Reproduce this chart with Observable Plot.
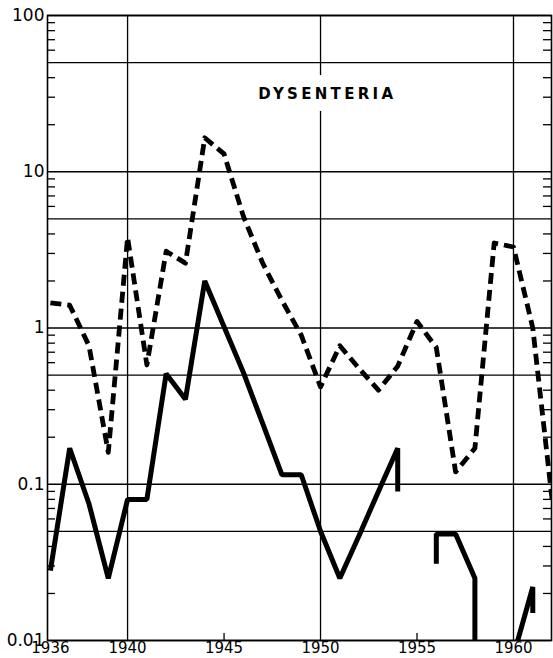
<!DOCTYPE html>
<html><head><meta charset="utf-8">
<script src="https://cdn.jsdelivr.net/npm/d3@7"></script>
<script src="https://cdn.jsdelivr.net/npm/@observablehq/plot@0.6"></script>
<style>
body{margin:0;background:#fff;}
</style></head><body><div id="chart"></div>
<script>
const title = "DYSENTERIA";

// dashed series (one value per year)
const dashedYears = [1936,1937,1938,1939,1940,1941,1942,1943,1944,1945,1946,1947,1948,1949,1950,1951,1952,1953,1954,1955,1956,1957,1958,1959,1960,1961,1962];
const dashedValues = [1.45,1.4,0.77,0.16,3.8,0.58,3.1,2.6,16.5,13,5.2,2.6,1.5,0.9,0.42,0.77,0.55,0.4,0.57,1.1,0.75,0.12,0.17,3.5,3.3,1.0,0.08];

// solid series, drawn in three separate pieces
const solidYearsA = [1936,1937,1938,1939,1940,1941,1942,1943,1944,1945,1946,1947,1948,1949,1950,1951,1952,1953,1954,1954];
const solidValuesA = [0.028,0.17,0.075,0.025,0.08,0.08,0.51,0.35,2.0,1.02,0.52,0.245,0.115,0.115,0.05,0.025,0.047,0.09,0.17,0.09];
const solidYearsB = [1956,1956,1957,1958,1958];
const solidValuesB = [0.031,0.048,0.048,0.025,0.008];
const solidYearsC = [1960,1961,1961];
const solidValuesC = [0.008,0.022,0.015];

// axes
const yMajor = [0.01,0.05,0.1,0.5,1,5,10,50,100];
const yTickLabels = ["0.01","0.05","0.1","0.5","1","5","10","50","100"];
const yMinor = [0.02,0.03,0.04,0.06,0.07,0.08,0.09,0.2,0.3,0.4,0.6,0.7,0.8,0.9,2,3,4,6,7,8,9,20,30,40,60,70,80,90];
const xTicks = [1936,1940,1945,1950,1955,1960];
const xGrid = [1940,1950,1960];
const xMinor = [1945,1955];

const dashed = dashedYears.map((y,i)=>({year:y, value:dashedValues[i]}));
const solid = [
  ...solidYearsA.map((y,i)=>({year:y, value:solidValuesA[i], seg:"A"})),
  ...solidYearsB.map((y,i)=>({year:y, value:solidValuesB[i], seg:"B"})),
  ...solidYearsC.map((y,i)=>({year:y, value:solidValuesC[i], seg:"C"}))
];
const yLabelMap = new Map(yMajor.map((v,i)=>[v, yTickLabels[i]]));

const chart = Plot.plot({
  width: 553, height: 658,
  marginLeft: 47, marginRight: 2, marginTop: 15, marginBottom: 18,
  style: {fontFamily: "DejaVu Sans", color: "black", background: "white"},
  x: {domain: [1935.85, 1961.97], label: null},
  y: {type: "log", domain: [0.01, 100], label: null},
  marks: [
    Plot.ruleY(yMajor, {stroke: "black", strokeWidth: 1.3}),
    Plot.ruleX(xGrid, {stroke: "black", strokeWidth: 1.3}),
    Plot.tickY(yMinor, {y: d => d, insetRight: 496, stroke: "black", strokeWidth: 1.3}),
    Plot.tickY(yMinor, {y: d => d, insetLeft: 496, stroke: "black", strokeWidth: 1.3}),
    Plot.tickX(xMinor, {x: d => d, insetTop: 618, stroke: "black", strokeWidth: 1.3}),
    Plot.frame({stroke: "black", strokeWidth: 1.6}),
    Plot.text([title], {x: 1950.35, y: 31.5, text: d => d, fontSize: 15, fontWeight: "bold",
      fill: "black", stroke: "white", strokeWidth: 24}),
    Plot.line(dashed, {x: "year", y: "value", stroke: "black", strokeWidth: 4.8,
      strokeDasharray: "11,6", strokeLinecap: "butt", strokeLinejoin: "round", clip: true}),
    Plot.line(solid, {x: "year", y: "value", z: "seg", stroke: "black", strokeWidth: 5,
      strokeLinecap: "butt", strokeLinejoin: "miter", clip: true}),
    Plot.axisY({ticks: yMajor, tickFormat: d => yLabelMap.get(d), tickSize: 0, tickPadding: 3, fontSize: 17, label: null}),
    Plot.axisX({ticks: xTicks, tickFormat: d => String(d), tickSize: 0, tickPadding: 2, fontSize: 15, label: null})
  ]
});
d3.select(chart).selectAll("text")
  .filter(function(){ return this.textContent === title; })
  .style("letter-spacing", "3.3px");
document.getElementById("chart").appendChild(chart);
</script></body></html>
